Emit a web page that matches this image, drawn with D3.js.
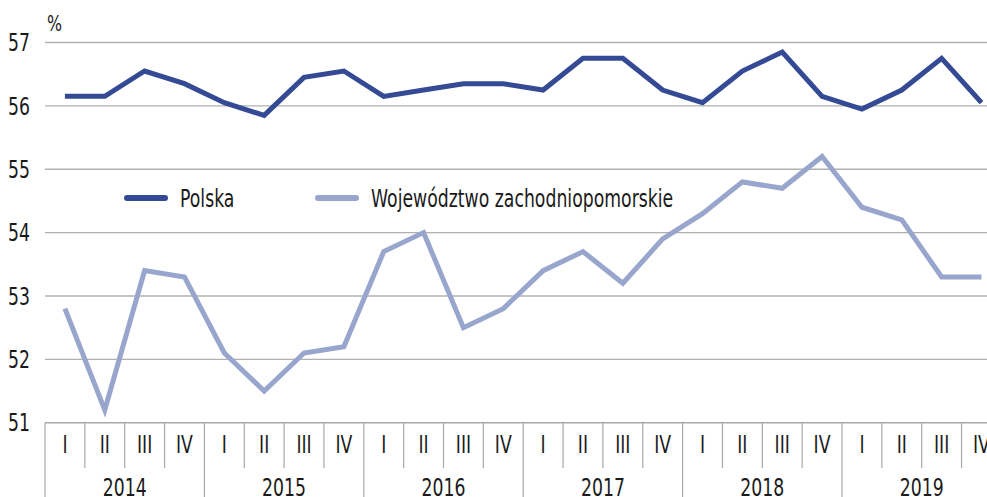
<!DOCTYPE html>
<html>
<head>
<meta charset="utf-8">
<script src="https://cdn.jsdelivr.net/npm/d3@7"></script>
<style>
  body { margin: 0; background: #fff; }
  svg { display: block; font-family: "DejaVu Sans", sans-serif; }
</style>
</head>
<body>
<div id="chart"></div>
<script>
const years = ["2014", "2015", "2016", "2017", "2018", "2019"]
const quarters = ["I", "II", "III", "IV"]
const yTicks = [51, 52, 53, 54, 55, 56, 57]

const polska = [56.15, 56.15, 56.55, 56.35, 56.05, 55.85, 56.45, 56.55,
  56.15, 56.25, 56.35, 56.35, 56.25, 56.75, 56.75, 56.25,
  56.05, 56.55, 56.85, 56.15, 55.95, 56.25, 56.75, 56.05]
const zachodniopomorskie = [52.8, 51.2, 53.4, 53.3, 52.1, 51.5, 52.1, 52.2,
  53.7, 54.0, 52.5, 52.8, 53.4, 53.7, 53.2, 53.9,
  54.3, 54.8, 54.7, 55.2, 54.4, 54.2, 53.3, 53.3]

const series = [
  { name: "Polska", values: polska, color: "#344a94" },
  { name: "Województwo zachodniopomorskie", values: zachodniopomorskie, color: "#98a5cc" }
]

const width = 987, height = 497
const left = 45, bandW = 39.85
const fs = 24, sx = 0.72   // condensed look: wide font squeezed horizontally
const periods = years.flatMap(y => quarters.map(q => y + "-" + q))

const x = d3.scaleBand()
  .domain(periods)
  .range([left, left + bandW * periods.length])

const y = d3.scaleLinear()
  .domain([51, 57])
  .range([422.7, 42.5])

const svg = d3.select("#chart").append("svg")
  .attr("width", width)
  .attr("height", height)

const squeeze = (px, py) => `translate(${px},${py}) scale(${sx},1)`

// gridlines
svg.append("g")
  .selectAll("line")
  .data(yTicks.slice(1))
  .join("line")
  .attr("x1", left).attr("x2", width)
  .attr("y1", d => y(d)).attr("y2", d => y(d))
  .attr("stroke", "#b0b0b0")
  .attr("stroke-width", 1.4)

// y labels
svg.append("g")
  .selectAll("text")
  .data(yTicks)
  .join("text")
  .attr("transform", d => squeeze(8, y(d)))
  .attr("dy", "0.36em")
  .attr("font-size", fs)
  .attr("fill", "#1a1a1a")
  .text(d => d)

svg.append("text")
  .attr("transform", squeeze(47, 31))
  .attr("font-size", 22)
  .attr("fill", "#1a1a1a")
  .text("%")

// x axis: baseline, quarter and year dividers
const axisY = y(51)
svg.append("line")
  .attr("x1", left).attr("x2", width)
  .attr("y1", axisY).attr("y2", axisY)
  .attr("stroke", "#a8a8a8").attr("stroke-width", 1.4)

const ax = svg.append("g")
ax.selectAll("line.q")
  .data(periods)
  .join("line")
  .attr("class", "q")
  .attr("x1", d => x(d)).attr("x2", d => x(d))
  .attr("y1", axisY)
  .attr("y2", (d, i) => i % 4 === 0 ? height : 468)
  .attr("stroke", "#a8a8a8")
  .attr("stroke-width", 1.2)

ax.selectAll("text.q")
  .data(periods)
  .join("text")
  .attr("class", "q")
  .attr("transform", d => squeeze(x(d) + x.bandwidth() / 2, 453))
  .attr("text-anchor", "middle")
  .attr("font-size", fs)
  .attr("fill", "#1a1a1a")
  .text(d => d.split("-")[1])

ax.selectAll("text.y")
  .data(years)
  .join("text")
  .attr("class", "y")
  .attr("transform", d => squeeze(x(d + "-I") + x.bandwidth() * 2, 496))
  .attr("text-anchor", "middle")
  .attr("font-size", fs)
  .attr("fill", "#1a1a1a")
  .text(d => d)

// lines
const line = d3.line()
  .x((d, i) => x(periods[i]) + x.bandwidth() / 2)
  .y(d => y(d))

svg.append("g")
  .selectAll("path")
  .data(series.slice().reverse())
  .join("path")
  .attr("d", d => line(d.values))
  .attr("fill", "none")
  .attr("stroke", d => d.color)
  .attr("stroke-width", 5)
  .attr("stroke-linejoin", "miter")

// legend
const legendPos = [127, 318]
const legend = svg.append("g")
  .selectAll("g")
  .data(series)
  .join("g")
  .attr("transform", (d, i) => `translate(${legendPos[i]},198)`)

legend.append("line")
  .attr("x1", 0).attr("x2", 38)
  .attr("stroke", d => d.color)
  .attr("stroke-width", 6)
  .attr("stroke-linecap", "round")

legend.append("text")
  .attr("transform", squeeze(53, 0))
  .attr("dy", "0.36em")
  .attr("font-size", fs)
  .attr("fill", "#1a1a1a")
  .text(d => d.name)
</script>
</body>
</html>
